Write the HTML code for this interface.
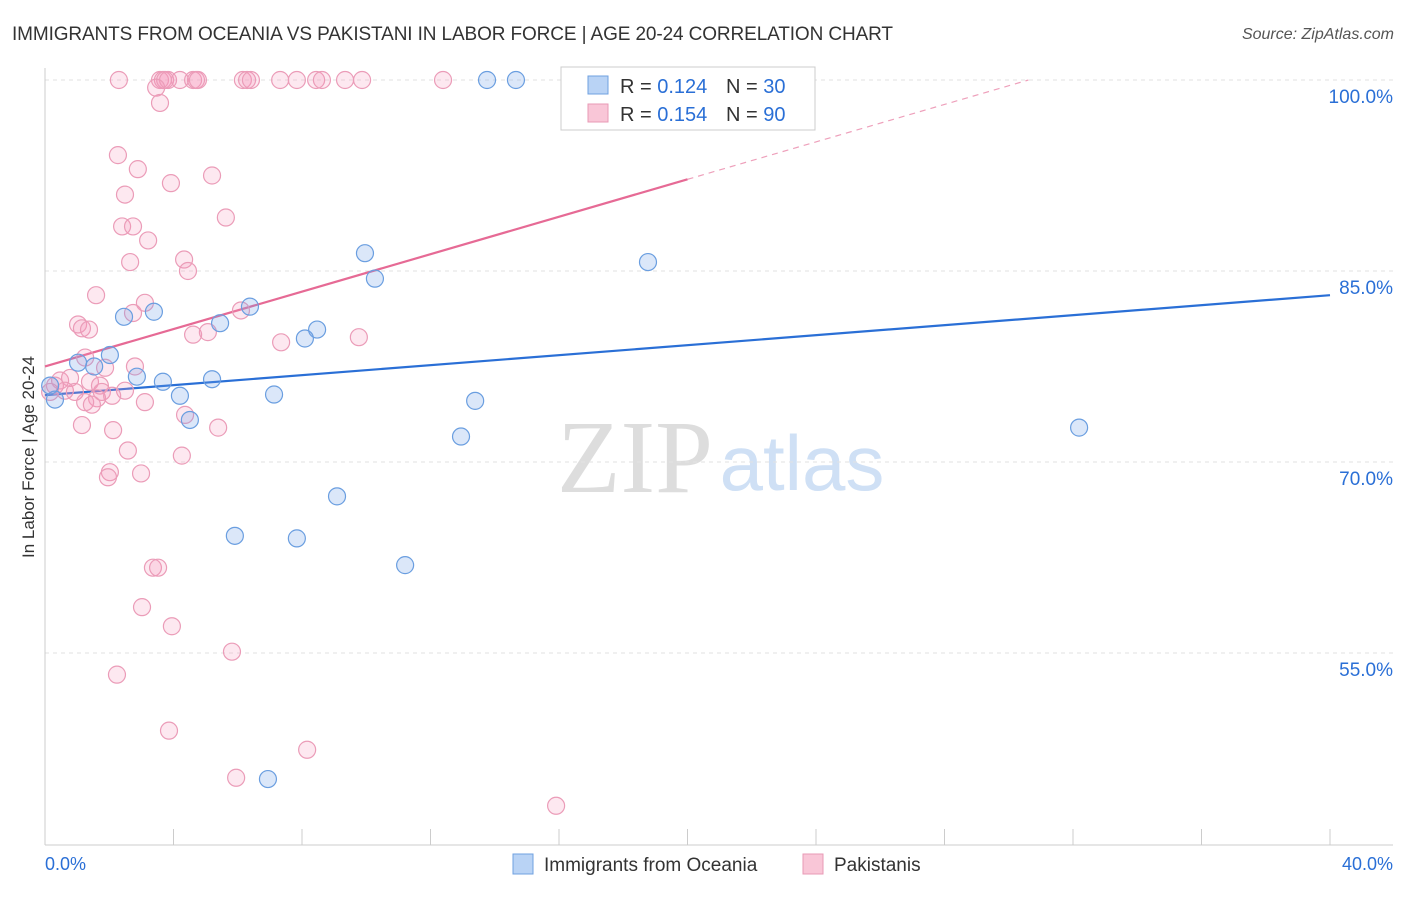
<!DOCTYPE html>
<html><head><meta charset="utf-8"><style>
body{margin:0;background:#fff;font-family:"Liberation Sans",sans-serif}
svg text{font-family:"Liberation Sans",sans-serif}
</style></head><body>
<svg id="c" width="1406" height="892" xmlns="http://www.w3.org/2000/svg">
<text x="12" y="40" font-size="19" fill="#333" textLength="881">IMMIGRANTS FROM OCEANIA VS PAKISTANI IN LABOR FORCE | AGE 20-24 CORRELATION CHART</text>
<text x="1394" y="39" font-size="16" fill="#555" font-style="italic" text-anchor="end">Source: ZipAtlas.com</text>
<text x="34" y="457" font-size="17" fill="#333" text-anchor="middle" transform="rotate(-90 34 457)">In Labor Force | Age 20-24</text>
<g>
<text x="635" y="492" font-size="104" fill="#ddd" text-anchor="middle" style="font-family:'Liberation Serif',serif">ZIP</text>
<text x="802" y="490" font-size="78" fill="#cfe0f5" text-anchor="middle">atlas</text>
</g>
<g id="grid"></g><g id="axes"></g><g id="lines"></g><g id="pts"></g>
<g>
<rect x="561" y="67" width="254" height="63" fill="#fff" stroke="#ccc"/>
<rect x="588" y="76" width="20" height="18" fill="#b9d3f5" stroke="#6fa0e0"/>
<rect x="588" y="104" width="20" height="18" fill="#f9c6d7" stroke="#e89ab5"/>
<text x="620" y="93" font-size="20" fill="#333">R = <tspan fill="#2a6fd6">0.124</tspan></text>
<text x="726" y="93" font-size="20" fill="#333">N = <tspan fill="#2a6fd6">30</tspan></text>
<text x="620" y="121" font-size="20" fill="#333">R = <tspan fill="#2a6fd6">0.154</tspan></text>
<text x="726" y="121" font-size="20" fill="#333">N = <tspan fill="#2a6fd6">90</tspan></text>
</g>
<g>
<rect x="513" y="854" width="20" height="20" fill="#b9d3f5" stroke="#6fa0e0"/>
<text x="544" y="871" font-size="19" fill="#333">Immigrants from Oceania</text>
<rect x="803" y="854" width="20" height="20" fill="#f9c6d7" stroke="#e89ab5"/>
<text x="834" y="871" font-size="19" fill="#333">Pakistanis</text>
</g>
<text x="45" y="870" font-size="18" fill="#2a6fd6">0.0%</text>
<text x="1393" y="870" font-size="18" fill="#2a6fd6" text-anchor="end">40.0%</text>
</svg>
<script>
const yTicks=[100,85,70,55];
const yTickLabels=["100.0%","85.0%","70.0%","55.0%"];
const blueX=[13.76,14.66,9.96,18.77,10.27,2.46,3.39,6.38,5.45,8.47,8.09,2.02,1.53,1.03,2.86,3.67,5.20,4.20,7.13,4.51,13.39,12.95,32.19,9.09,5.91,7.84,11.21,6.94,0.31,0.16];
const blueY=[100,100,86.4,85.7,84.4,81.4,81.8,82.2,80.9,80.4,79.7,78.4,77.5,77.8,76.7,76.3,76.5,75.2,75.3,73.3,74.8,72.0,72.7,67.3,64.2,64.0,61.9,45.1,74.9,76.0];
const pinkX=[2.30,3.58,3.67,3.74,3.83,4.20,4.61,4.70,4.76,6.16,6.29,6.41,7.32,7.84,8.44,8.62,9.34,9.87,12.39,3.46,3.58,2.27,2.89,3.92,5.20,2.49,5.63,2.40,2.74,3.21,2.65,4.33,4.45,1.59,3.11,2.74,6.10,1.03,1.15,1.37,4.61,5.07,7.35,9.77,1.25,2.80,1.87,0.47,0.78,1.40,1.71,0.31,0.62,0.93,0.16,1.77,2.49,1.62,2.09,1.25,1.46,3.11,4.36,1.15,5.39,2.12,2.58,4.26,2.02,1.96,2.99,3.36,3.52,3.02,3.95,5.82,2.24,3.86,8.16,5.95,15.91];
const pinkY=[100,100,100,100,100,100,100,100,100,100,100,100,100,100,100,100,100,100,100,99.4,98.2,94.1,93.0,91.9,92.5,91.0,89.2,88.5,88.5,87.4,85.7,85.9,85.0,83.1,82.5,81.7,81.9,80.8,80.5,80.4,80.0,80.2,79.4,79.8,78.2,77.5,77.4,76.4,76.6,76.3,76.0,76.0,75.6,75.5,75.5,75.5,75.6,75.0,75.2,74.7,74.5,74.7,73.7,72.9,72.7,72.5,70.9,70.5,69.2,68.8,69.1,61.7,61.7,58.6,57.1,55.1,53.3,48.9,47.4,45.2,43.0];
const blueFit=[75.25,83.1];
const pinkFit=[77.5,92.2];
const NS="http://www.w3.org/2000/svg";
const X=v=>45+v*32.125, Y=v=>80+(100-v)*12.733;
function mk(t,a,p){const e=document.createElementNS(NS,t);for(const k in a)e.setAttribute(k,a[k]);p.appendChild(e);return e;}
const grid=document.getElementById('grid'),axes=document.getElementById('axes'),lines=document.getElementById('lines'),pts=document.getElementById('pts');
yTicks.forEach((t,i)=>{
 const l=mk('line',{x1:45,x2:1393,y1:Y(t),y2:Y(t),stroke:'#e2e2e2','stroke-dasharray':'4,4'},grid);
 
 
 const tx=mk('text',{x:1393,y:Y(t)+23,'font-size':19,fill:'#2a6fd6','text-anchor':'end'},grid);
 tx.textContent=yTickLabels[i];
 
 
});
const ya=mk('line',{x1:45,x2:45,y1:68,y2:845,stroke:'#ccc'},axes);


const xa=mk('line',{x1:45,x2:1393,y1:845,y2:845,stroke:'#ccc'},axes);


for(let i=0;i<=10;i++){const t=mk('line',{x1:X(i*4),x2:X(i*4),y1:829,y2:845,stroke:'#ccc'},axes);
 
 }
function dots(xs,ys,fill,stroke,name){xs.forEach((x,i)=>{
 const c=mk('circle',{cx:X(x),cy:Y(ys[i]),r:8.5,fill:fill,stroke:stroke,'stroke-width':1.2},pts);
 
 });}
dots(pinkX,pinkY,'rgba(244,150,185,0.22)','#eb9cb8','pakistani-point');
dots(blueX,blueY,'rgba(110,160,230,0.25)','#6a9ee0','oceania-point');
const bl=mk('line',{x1:X(0),y1:Y(blueFit[0]),x2:X(40),y2:Y(blueFit[1]),stroke:'#2a6fd6','stroke-width':2.2},lines);


const ps=(pinkFit[1]-pinkFit[0])/20, xe=(100-pinkFit[0])/ps;
const pl=mk('line',{x1:X(0),y1:Y(pinkFit[0]),x2:X(20),y2:Y(pinkFit[1]),stroke:'#e66a95','stroke-width':2.2},lines);


const pd=mk('line',{x1:X(20),y1:Y(pinkFit[1]),x2:X(xe),y2:Y(100),stroke:'#eea0bb','stroke-width':1.2,'stroke-dasharray':'6,5'},lines);


</script>
</body></html>
